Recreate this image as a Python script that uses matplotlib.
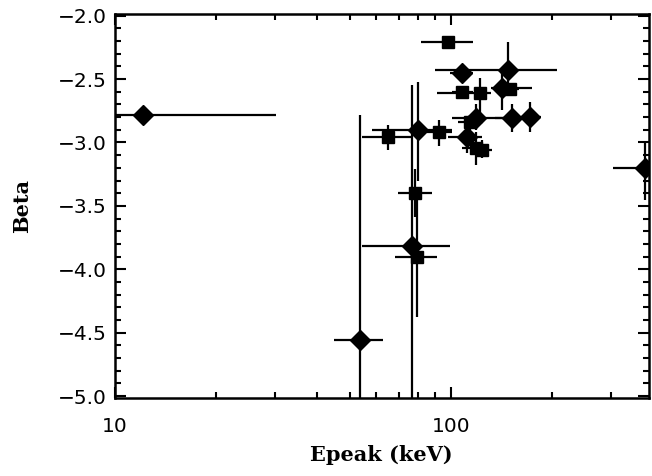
import numpy as np
import matplotlib.pyplot as plt
from matplotlib.ticker import FixedLocator, MultipleLocator, NullFormatter

# Diamond sample: peak energy (keV) and high-energy index with asymmetric error ranges
dia_ep = [12.1, 53.6, 76.6, 79.8, 108, 148, 142, 119, 152, 172, 112, 378]
dia_beta = [-2.78, -4.56, -3.82, -2.90, -2.45, -2.43, -2.57, -2.81, -2.81, -2.80, -2.955, -3.20]
dia_ep_lo = [9.0, 44.9, 54.3, 58.2, 99.5, 89.6, 132, 101, 135, 162, 98, 303]
dia_ep_hi = [30.1, 62.8, 99.3, 101, 116, 207, 174, 150, 169, 186, 124, 500]
dia_beta_lo = [-2.83, -5.5, -5.5, -3.30, -2.49, -2.61, -2.74, -2.90, -2.92, -2.92, -3.08, -3.45]
dia_beta_hi = [-2.73, -2.78, -2.55, -2.52, -2.41, -2.21, -2.45, -2.70, -2.70, -2.68, -2.84, -3.00]

# Square sample
sq_ep = [98, 108, 122, 150, 65, 92, 78.2, 79.3, 119, 124, 114]
sq_beta = [-2.21, -2.60, -2.61, -2.58, -2.955, -2.92, -3.40, -3.90, -3.04, -3.06, -2.84]
sq_ep_lo = [81.5, 101, 91, 140, 54.3, 85, 69.7, 68, 108, 115, 105]
sq_ep_hi = [116, 116, 132, 160, 77, 101, 88, 90.8, 130, 133, 125]
sq_beta_lo = [-2.24, -2.64, -2.77, -2.63, -3.06, -3.03, -3.59, -4.38, -3.18, -3.12, -2.90]
sq_beta_hi = [-2.18, -2.56, -2.49, -2.54, -2.86, -2.82, -3.21, -3.45, -2.92, -2.98, -2.78]


def asym(center, lo, hi):
    c = np.asarray(center, float)
    return [c - np.asarray(lo, float), np.asarray(hi, float) - c]


fig = plt.figure(figsize=(6.52, 4.76), dpi=100)
ax = fig.add_axes([0.176, 0.164, 0.819, 0.807])

ax.errorbar(dia_ep, dia_beta,
            xerr=asym(dia_ep, dia_ep_lo, dia_ep_hi),
            yerr=asym(dia_beta, dia_beta_lo, dia_beta_hi),
            fmt='D', color='black', ms=10, ecolor='black', elinewidth=1.6,
            capsize=0)
ax.errorbar(sq_ep, sq_beta,
            xerr=asym(sq_ep, sq_ep_lo, sq_ep_hi),
            yerr=asym(sq_beta, sq_beta_lo, sq_beta_hi),
            fmt='s', color='black', ms=8.5, ecolor='black', elinewidth=1.6,
            capsize=0)

ax.set_xscale('log')
ax.set_xlim(10, 388)
ax.set_ylim(-5.015, -1.985)

ax.xaxis.set_major_locator(FixedLocator([10, 100]))
ax.xaxis.set_minor_locator(FixedLocator([20, 30, 40, 50, 60, 70, 80, 90, 200, 300]))
ax.xaxis.set_minor_formatter(NullFormatter())
ax.set_xticklabels(['10', '100'])
ax.yaxis.set_major_locator(MultipleLocator(0.5))
ax.yaxis.set_minor_locator(MultipleLocator(0.1))
ax.yaxis.set_major_formatter(plt.FuncFormatter(lambda v, p: f'{v:.1f}'.replace('-', '\u2212')))

ax.tick_params(which='both', direction='in', top=True, right=True, width=1.5)
ax.tick_params(which='major', length=8, labelsize=14.5)
ax.tick_params(which='minor', length=4)
ax.tick_params(axis='x', which='major', pad=14)
ax.tick_params(axis='y', which='major', pad=6)
for lab in ax.get_xticklabels() + ax.get_yticklabels():
    lab.set_family('DejaVu Sans')

for s in ax.spines.values():
    s.set_linewidth(1.8)

ax.set_xlabel('Epeak (keV)', family='DejaVu Serif', fontsize=15,
              fontweight='bold', labelpad=6)
ax.set_ylabel('Beta', family='DejaVu Serif', fontsize=15,
              fontweight='bold', labelpad=18)

fig.savefig('out.png', dpi=100)
